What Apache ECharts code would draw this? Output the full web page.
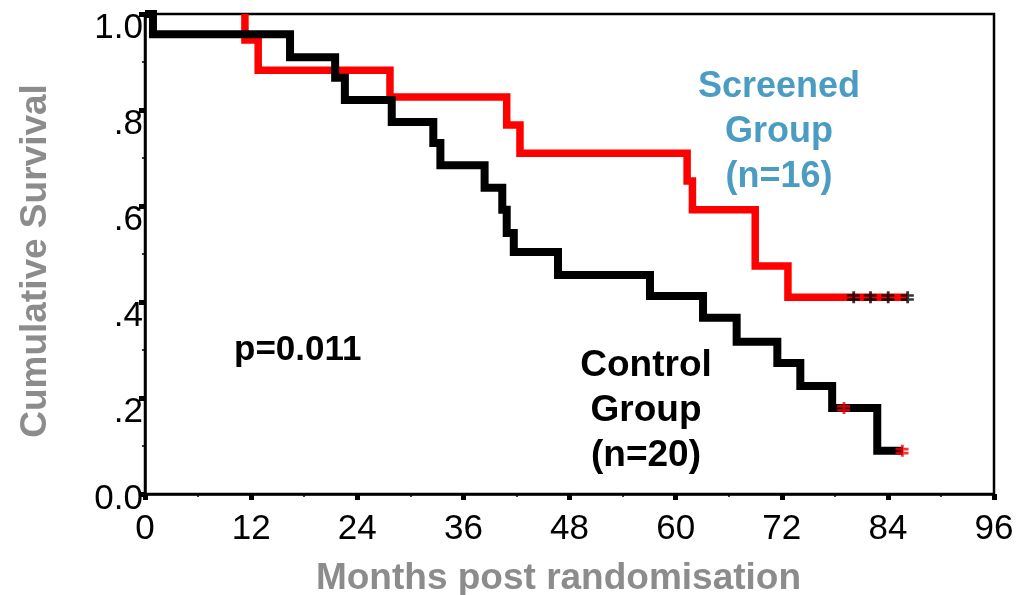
<!DOCTYPE html>
<html><head><meta charset="utf-8">
<script src="https://cdn.jsdelivr.net/npm/echarts@6/dist/echarts.min.js"></script>
<style>html,body{margin:0;padding:0;background:#fff}#c{width:1024px;height:595px}</style>
</head><body><div id="c"></div>
<script>
// ---- data ----
const xTickLabels = ['0','12','24','36','48','60','72','84','96'];
const yTickLabels = ['0.0','.2','.4','.6','.8','1.0'];

// Screened group (n=16): event times (months) and survival after each event
const screenedTimes = [11.3, 12.8, 27.7, 40.9, 42.4, 61.3, 61.9, 69.0, 72.7];
const screenedSurv  = [0.946, 0.883, 0.827, 0.769, 0.710, 0.652, 0.592, 0.475, 0.410];
const screenedEnd = 86.2;
const screenedCensored = [80.1, 82.0, 84.0, 86.2];

// Control group (n=20)
const controlTimes = [0.9, 16.4, 21.5, 22.6, 27.9, 32.6, 33.4, 38.4, 40.4, 40.9, 41.7, 46.7, 57.1, 63.1, 66.9, 71.5, 74.1, 77.7, 82.8];
const controlSurv  = [0.958, 0.910, 0.867, 0.821, 0.775, 0.731, 0.685, 0.638, 0.592, 0.544, 0.504, 0.456, 0.4125, 0.367, 0.317, 0.273, 0.225, 0.179, 0.090];
const controlEnd = 85.7;
const controlCensored = [79.0, 85.6];

// ---- build ----
function kmData(start, times, surv, end) {
  const d = [[start, 1.0]];
  times.forEach((t, i) => d.push([t, surv[i]]));
  d.push([end, surv[surv.length - 1]]);
  return d;
}
function survAt(times, surv, t) {
  let s = 1.0;
  times.forEach((tt, i) => { if (tt <= t) s = surv[i]; });
  return s;
}
const censorSymbol = 'path://M5,0h2.6v12h-2.6z M0,3h12v2.6h-12z M0,7h12v2.6h-12z';
const axisFont = "'Liberation Sans', Arial, sans-serif";

const chart = echarts.init(document.getElementById('c'), null, {renderer: 'canvas'});
chart.setOption({
  animation: false,
  backgroundColor: '#fff',
  grid: {left: 145, right: 30, top: 14, bottom: 101, containLabel: false, outerBoundsMode: 'none',
         show: true, borderColor: '#000', borderWidth: 2.5, backgroundColor: 'transparent'},
  xAxis: {
    type: 'value', min: 0, max: 96, interval: 12,
    axisLine: {lineStyle: {color: '#000', width: 2.5}},
    axisTick: {show: true, length: 6, lineStyle: {color: '#000', width: 5}},
    minorTick: {show: true, splitNumber: 2, length: 3, lineStyle: {color: '#000', width: 1.5}},
    splitLine: {show: false},
    axisLabel: {
      margin: 18, color: '#000', fontSize: 35, fontFamily: axisFont,
      formatter: v => xTickLabels[Math.round(v / 12)]
    },
    name: 'Months post randomisation', nameLocation: 'middle', nameGap: 66,
    nameTextStyle: {color: '#8c8c8c', fontSize: 37, fontWeight: 'bold', fontFamily: axisFont, padding: [0, 22, 0, 0]}
  },
  yAxis: {
    type: 'value', min: 0, max: 1, interval: 0.2,
    axisLine: {show: true, lineStyle: {color: '#000', width: 2.5}},
    axisTick: {show: true, length: 6, lineStyle: {color: '#000', width: 5}},
    minorTick: {show: true, splitNumber: 2, length: 3, lineStyle: {color: '#000', width: 1.5}},
    splitLine: {show: false},
    axisLabel: {
      margin: 2, color: '#000', fontSize: 35, fontFamily: axisFont,
      formatter: v => {
        const i = Math.round(v / 0.2);
        return (i === 0 ? '{z|' : '{n|') + yTickLabels[i] + '}';
      },
      rich: {
        n: {fontSize: 35, fontFamily: axisFont, color: '#000', padding: [28, 0, 0, 0]},
        z: {fontSize: 35, fontFamily: axisFont, color: '#000', padding: [10, 0, 0, 0]}
      }
    },
    name: 'Cumulative Survival', nameLocation: 'middle', nameGap: 91, nameRotate: 90,
    nameTextStyle: {color: '#8c8c8c', fontSize: 37, fontWeight: 'bold', fontFamily: axisFont, padding: [0, 14, 0, 0]}
  },
  series: [
    {
      type: 'line', step: 'end', showSymbol: false, clip: true, z: 2,
      data: kmData(screenedTimes[0], screenedTimes, screenedSurv, screenedEnd),
      lineStyle: {color: '#ff0000', width: 7.5, join: 'miter', cap: 'butt'}
    },
    {
      type: 'line', step: 'end', showSymbol: false, clip: true, z: 3,
      data: kmData(0, controlTimes, controlSurv, controlEnd),
      lineStyle: {color: '#000000', width: 8, join: 'miter', cap: 'butt'}
    },
    {
      type: 'scatter', z: 4, symbol: censorSymbol, symbolSize: [13, 12],
      itemStyle: {color: '#000'},
      data: screenedCensored.map(t => [t, survAt(screenedTimes, screenedSurv, t)])
    },
    {
      type: 'scatter', z: 4, symbol: censorSymbol, symbolSize: [13, 12],
      itemStyle: {color: '#ff0000'},
      data: controlCensored.map(t => [t, survAt(controlTimes, controlSurv, t)])
    }
  ],
  graphic: [
    {type: 'text', style: {text: 'Screened\nGroup\n(n=16)', x: 779, y: 65, textAlign: 'center', fill: '#4a9cc2', font: "bold 36px 'Liberation Sans', Arial, sans-serif", lineHeight: 45}},
    {type: 'text', style: {text: 'Control\nGroup\n(n=20)', x: 646, y: 343, textAlign: 'center', fill: '#000', font: "bold 37px 'Liberation Sans', Arial, sans-serif", lineHeight: 45}},
    {type: 'text', style: {text: 'p=0.011', x: 234, y: 333, textAlign: 'left', fill: '#000', font: "bold 35px 'Liberation Sans', Arial, sans-serif"}}
  ]
});
</script>
</body></html>
